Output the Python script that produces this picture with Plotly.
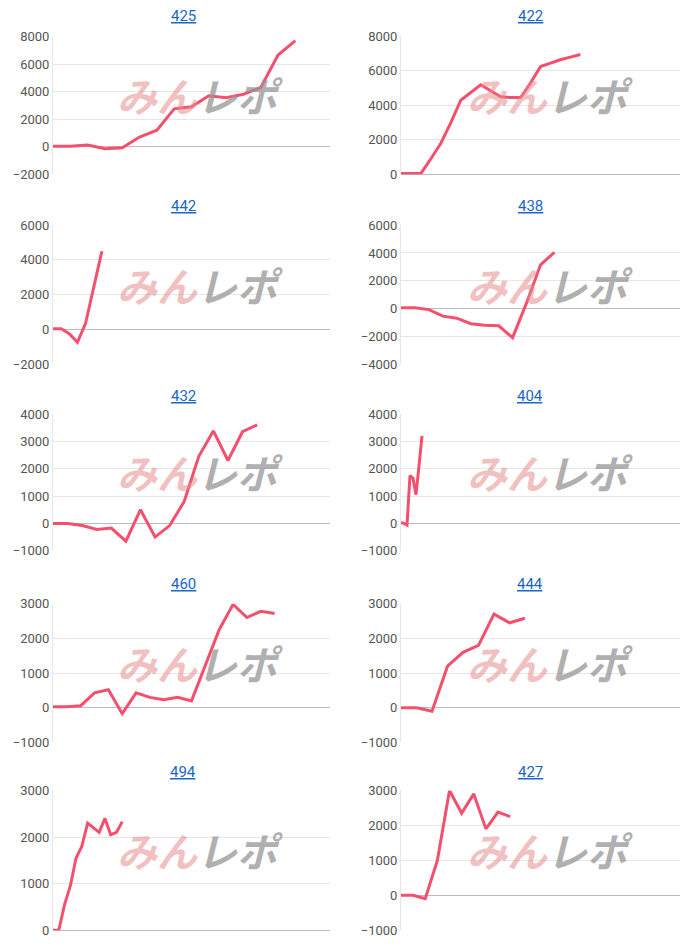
import plotly.graph_objects as go

# 各機種の差枚推移
titles = ["425", "422", "442", "438", "432", "404", "460", "444", "494", "427"]
values = [
    [30, 30, 120, -150, -80, 700, 1200, 2750, 2900, 3700, 3550, 3800, 4300, 6650, 7700],
    [50, 50, 50, 900, 1800, 3000, 4300, 4750, 5200, 4850, 4500, 4450, 4450, 5300, 6250, 6450, 6650, 6800, 6950],
    [30, 30, -250, -750, 350, 2500, 4500],
    [50, 50, -80, -550, -700, -1100, -1200, -1250, -2100, 400, 3150, 4050],
    [0, 0, -80, -220, -170, -650, 500, -500, -80, 800, 2450, 3380, 2300, 3350, 3600],
    [30, 0, -60, 1750, 1650, 1050, 2100, 3200],
    [30, 30, 60, 430, 520, -170, 430, 300, 230, 300, 200, 1200, 2250, 2980, 2600, 2780, 2720],
    [0, 0, -100, 1200, 1600, 1800, 2700, 2450, 2580],
    [0, 0, 550, 950, 1550, 1800, 2300, 2200, 2100, 2400, 2050, 2100, 2330],
    [0, 0, -100, 1000, 3000, 2350, 2900, 1900, 2380, 2250],
]
x_max = [16, 28, 34, 20, 19, 93, 20, 18, 48, 23]
y_ranges = [(-2000, 8000), (0, 8000), (-2000, 6000), (-4000, 6000), (-1000, 4000),
            (-1000, 4000), (-1000, 3000), (-1000, 3000), (0, 3000), (-1000, 3000)]
y_dtick = [2000, 2000, 2000, 2000, 1000, 1000, 1000, 1000, 1000, 1000]

W, H = 700, 946
col_x = [(53, 330), (401, 680)]
title_x = [183, 530]
mark_x = [200, 550]
row_y = [(35, 173), (224, 363), (413, 550), (603, 742), (790, 930)]
title_y = [15, 205, 395, 583, 772]


def px_x(x):
    # the page body adds an 8px offset
    return (x - 8) / W


def px_y(y):
    return 1 - (35 + (y - 48) / 0.9855) / H


fig = go.Figure()
layout = dict(width=W, height=H, margin=dict(l=0, r=0, t=0, b=0),
              plot_bgcolor="white", paper_bgcolor="white", showlegend=False,
              font=dict(family="Roboto, Noto Sans CJK JP", size=12, color="#555"))
annotations = []

for i, (t, v) in enumerate(zip(titles, values)):
    r, c = divmod(i, 2)
    n = i + 1
    sx = "" if n == 1 else str(n)
    x0, x1 = col_x[c]
    y0, y1 = row_y[r]
    fig.add_trace(go.Scatter(x=list(range(len(v))), y=v, mode="lines",
                             line=dict(color="#f3506e", width=3),
                             xaxis="x" + sx, yaxis="y" + sx))
    layout["xaxis" + sx] = dict(domain=[px_x(x0), px_x(x1)], range=[0, x_max[i]],
                                showticklabels=False, showgrid=False, zeroline=False,
                                anchor="y" + sx)
    layout["yaxis" + sx] = dict(domain=[px_y(y1), px_y(y0)], range=list(y_ranges[i]),
                                dtick=y_dtick[i], gridcolor="#e6e6e6", zeroline=True,
                                zerolinecolor="#bbb", zerolinewidth=1,
                                showline=True, linecolor="#e6e6e6",
                                tickfont=dict(size=13, color="#555"),
                                anchor="x" + sx)
    annotations.append(dict(text=f"<u>{t}</u>", x=px_x(title_x[c]),
                            y=px_y(title_y[r]), xref="paper", yref="paper",
                            xanchor="center", yanchor="middle", showarrow=False,
                            font=dict(size=15, color="#1a66c4")))
    annotations.append(dict(text="<i><b><span style='color:rgba(230,140,140,0.55)'>みん</span>"
                                 "<span style='color:rgba(150,150,150,0.75)'>レポ</span></b></i>",
                            x=px_x(mark_x[c]), y=px_y((y0 + y1) / 2 - 10),
                            xref="paper", yref="paper", xanchor="center", yanchor="middle",
                            showarrow=False,
                            font=dict(size=40, family="Noto Sans CJK JP")))

layout["annotations"] = annotations
fig.update_layout(**layout)
fig.write_html("out.html")
